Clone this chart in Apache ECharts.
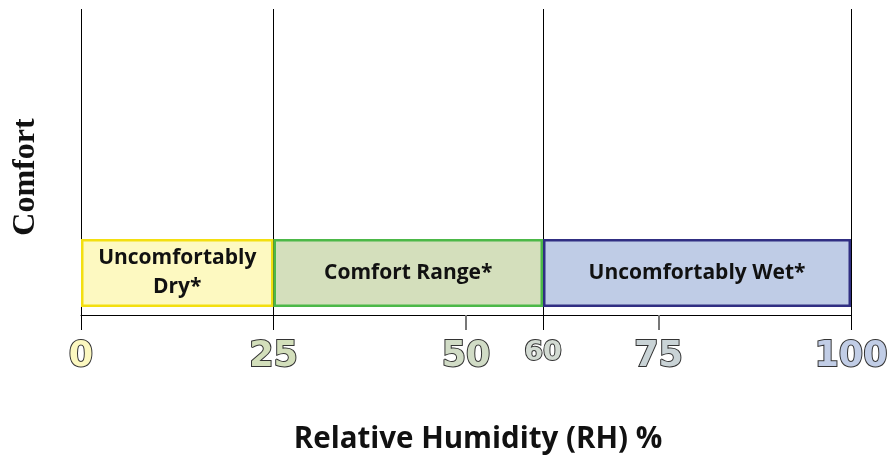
<!DOCTYPE html>
<html>
<head>
<meta charset="utf-8">
<script src="https://cdn.jsdelivr.net/npm/echarts@6/dist/echarts.min.js"></script>
<style>
  html, body { margin: 0; padding: 0; background: #fff; }
  #main { width: 889px; height: 466px; }
</style>
</head>
<body>
<div id="main"></div>
<script>
// comfort zones along the relative humidity scale
var zoneNames = ['Uncomfortably\nDry*', 'Comfort Range*', 'Uncomfortably Wet*']
var zoneStarts = [0, 25, 60]
var zoneEnds = [25, 60, 100]
var zoneFill = ['#fdf9c1', '#d4dfbc', '#bfcce6']
var zoneBorder = ['#f3df10', '#4cb848', '#302e82']

// ticks and labels on the RH axis
var boundaryTicks = [0, 25, 60, 100]
var minorTicks = [50, 75]
var tickLabels = [0, 25, 50, 60, 75, 100]
var tickLabelFill = ['#fcf8c0', '#d3dfbb', '#d1dcc6', '#d3dbd3', '#c9d3d6', '#c1cde6']

var myChart = echarts.init(document.getElementById('main'))

// rich styles for the outlined tick numbers
var rich = {}
tickLabels.forEach(function (v, i) {
  rich['v' + v] = {
    fontFamily: 'DejaVu Sans',
    fontWeight: 'bold',
    fontSize: v === 60 ? 27 : 35,
    color: tickLabelFill[i],
    textBorderColor: '#333',
    textBorderWidth: 2,
    padding: v === 60 ? [0, 0, 12, 0] : 0
  }
})

var series = zoneNames.map(function (name, i) {
  return {
    name: name,
    type: 'bar',
    stack: 'rh',
    xAxisIndex: 2,
    yAxisIndex: 1,
    barWidth: '100%',
    z: 5,
    data: [zoneEnds[i] - zoneStarts[i]],
    itemStyle: {
      color: zoneFill[i],
      borderColor: zoneBorder[i],
      borderWidth: 2.5
    },
    label: {
      show: true,
      position: 'inside',
      formatter: name,
      color: '#111',
      fontFamily: 'Open Sans',
      fontWeight: 'bold',
      fontSize: 21,
      lineHeight: 29,
      padding: [3, 0, 0, 0]
    }
  }
})

// vertical boundary lines over the whole frame
series.push({
  type: 'line',
  xAxisIndex: 0,
  yAxisIndex: 0,
  data: [],
  silent: true,
  z: 1,
  markLine: {
    symbol: 'none',
    silent: true,
    label: { show: false },
    lineStyle: { color: '#000', width: 1, type: 'solid' },
    data: boundaryTicks.map(function (v) { return { xAxis: v } })
  }
})

var option = {
  animation: false,
  grid: [
    { left: 81, right: 38, top: 9, bottom: 151, outerBoundsMode: 'none', containLabel: false },
    { left: 81, right: 38, top: 239, height: 68, outerBoundsMode: 'none', containLabel: false }
  ],
  xAxis: [
    {
      gridIndex: 0,
      type: 'value',
      position: 'bottom',
      min: 0,
      max: 100,
      splitLine: { show: false },
      axisLine: { show: true, lineStyle: { color: '#000', width: 1 } },
      axisTick: { show: true, customValues: boundaryTicks, length: 15, lineStyle: { color: '#000', width: 1 } },
      axisLabel: {
        show: true,
        customValues: tickLabels,
        margin: 24,
        formatter: function (v) { return '{v' + v + '|' + v + '}' },
        rich: rich
      },
      name: 'Relative Humidity (RH) %',
      nameLocation: 'middle',
      nameGap: 110,
      nameTextStyle: {
        fontFamily: 'Open Sans',
        fontWeight: 'bold',
        fontSize: 29.5,
        color: '#111',
        padding: [0, 0, 0, 24]
      }
    },
    {
      gridIndex: 0,
      type: 'value',
      position: 'bottom',
      min: 0,
      max: 100,
      splitLine: { show: false },
      axisLine: { show: false },
      axisTick: { show: true, customValues: minorTicks, length: 15, lineStyle: { color: '#777', width: 2 } },
      axisLabel: { show: false }
    },
    {
      gridIndex: 1,
      type: 'value',
      min: 0,
      max: 100,
      show: false
    }
  ],
  yAxis: [
    {
      gridIndex: 0,
      type: 'value',
      min: 0,
      max: 1,
      axisLine: { show: false },
      axisTick: { show: false },
      axisLabel: { show: false },
      splitLine: { show: false },
      name: 'Comfort',
      nameLocation: 'middle',
      nameRotate: 90,
      nameGap: 39,
      nameTextStyle: {
        fontFamily: 'Liberation Serif',
        fontWeight: 'bold',
        fontSize: 32,
        color: '#111',
        padding: [0, 30, 0, 0]
      }
    },
    {
      gridIndex: 1,
      type: 'category',
      data: ['RH'],
      show: false
    }
  ],
  series: series
}

myChart.setOption(option)
</script>
</body>
</html>
